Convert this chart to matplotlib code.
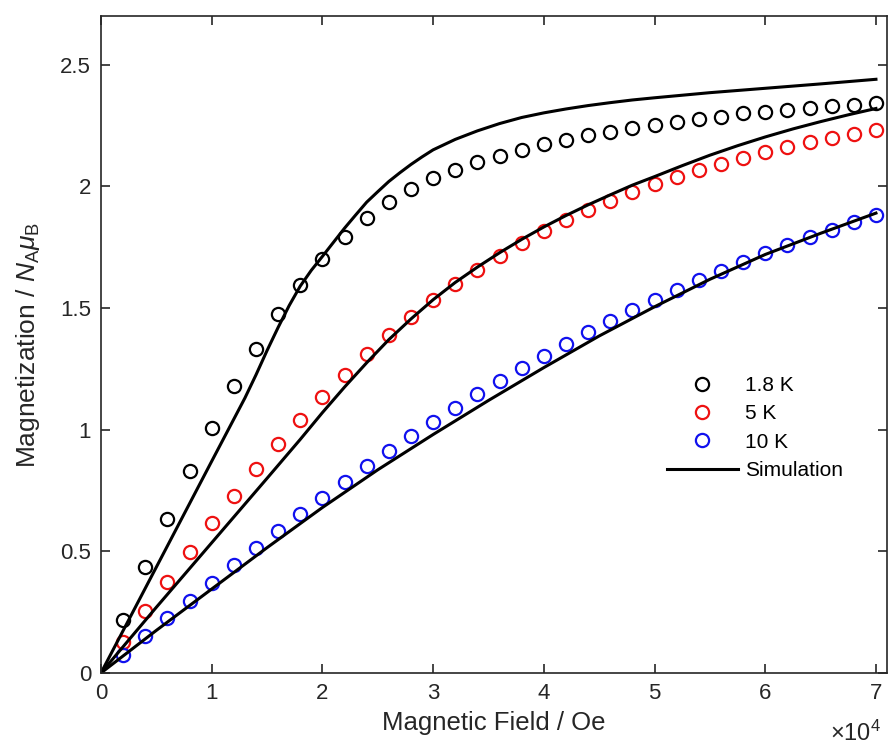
import numpy as np
import matplotlib
matplotlib.use("Agg")
import matplotlib.pyplot as plt
from matplotlib.ticker import FuncFormatter

plt.rcParams['font.family'] = ['Liberation Sans', 'DejaVu Sans']
plt.rcParams['mathtext.fontset'] = 'custom'
plt.rcParams['mathtext.rm'] = 'Liberation Sans'
plt.rcParams['mathtext.it'] = 'Liberation Sans:italic'

# measured data (field in Oe)
field = np.arange(2000, 70001, 2000)
m_18K = [0.218, 0.436, 0.633, 0.83, 1.007, 1.18, 1.332, 1.476, 1.595, 1.70,
         1.79, 1.87, 1.937, 1.99, 2.035, 2.068, 2.10, 2.126, 2.15, 2.175,
         2.19, 2.21, 2.225, 2.24, 2.253, 2.265, 2.278, 2.286, 2.30, 2.307,
         2.315, 2.323, 2.33, 2.336, 2.343]
m_5K = [0.127, 0.255, 0.374, 0.497, 0.617, 0.728, 0.839, 0.94, 1.04, 1.135,
        1.225, 1.31, 1.39, 1.464, 1.534, 1.60, 1.657, 1.715, 1.768, 1.817,
        1.863, 1.904, 1.94, 1.978, 2.01, 2.04, 2.068, 2.093, 2.118, 2.142,
        2.163, 2.183, 2.20, 2.216, 2.233]
m_10K = [0.074, 0.152, 0.226, 0.296, 0.37, 0.444, 0.514, 0.584, 0.654, 0.72,
         0.785, 0.851, 0.913, 0.975, 1.032, 1.09, 1.147, 1.20, 1.254, 1.303,
         1.353, 1.402, 1.447, 1.493, 1.534, 1.575, 1.616, 1.653, 1.69, 1.727,
         1.76, 1.793, 1.822, 1.855, 1.883]

# simulation curves
sim_18K_x = [0, 5000, 10000, 11500, 13000, 14000, 15000, 16000, 17000, 18000,
             19000, 20000, 21000, 22000, 23000, 24000, 25000, 26000, 27000,
             28000, 29000, 30000, 32000, 34000, 36000, 38000, 40000, 42000,
             44000, 46000, 48000, 50000, 55000, 60000, 65000, 70000]
sim_18K_y = [0, 0.435, 0.87, 1.0, 1.13, 1.225, 1.325, 1.42, 1.51, 1.59,
             1.655, 1.712, 1.77, 1.828, 1.882, 1.935, 1.978, 2.02, 2.056,
             2.09, 2.121, 2.15, 2.193, 2.228, 2.258, 2.283, 2.302, 2.318,
             2.332, 2.344, 2.355, 2.364, 2.385, 2.403, 2.421, 2.44]
sim_5K_x = [0, 5000, 10000, 15000, 18000, 20000, 22000, 24000, 26000, 28000,
            30000, 32000, 34000, 36000, 38000, 40000, 42000, 44000, 46000,
            48000, 50000, 52500, 55000, 57500, 60000, 62500, 65000, 67500,
            70000]
sim_5K_y = [0, 0.27, 0.535, 0.80, 0.96, 1.07, 1.175, 1.275, 1.37, 1.455,
            1.534, 1.605, 1.668, 1.727, 1.782, 1.833, 1.88, 1.924, 1.965,
            2.005, 2.04, 2.085, 2.128, 2.167, 2.203, 2.236, 2.266, 2.294,
            2.32]
sim_10K_x = [0, 5000, 10000, 15000, 20000, 25000, 30000, 35000, 40000, 45000,
             50000, 55000, 60000, 65000, 70000]
sim_10K_y = [0, 0.175, 0.345, 0.515, 0.68, 0.835, 0.98, 1.12, 1.255, 1.385,
             1.505, 1.618, 1.72, 1.807, 1.89]

fig = plt.figure(figsize=(8.88, 7.49), dpi=100)
ax = fig.add_axes([0.1137, 0.1015, 0.8852, 0.8771])

ms = 9.5
ax.plot(field, m_18K, 'o', mfc='none', mec='black', ms=ms, mew=1.6, label='1.8 K')
ax.plot(field, m_5K, 'o', mfc='none', mec='#ee1111', ms=ms, mew=1.6, label='5 K')
ax.plot(field, m_10K, 'o', mfc='none', mec='#1111ee', ms=ms, mew=1.6, label='10 K')
ax.plot(sim_18K_x, sim_18K_y, '-', color='black', lw=2.2, label='Simulation')
ax.plot(sim_5K_x, sim_5K_y, '-', color='black', lw=2.2)
ax.plot(sim_10K_x, sim_10K_y, '-', color='black', lw=2.2)

ax.set_xlim(0, 71000)
ax.set_ylim(0, 2.7)
ax.set_xticks(np.arange(0, 70001, 10000))
ax.set_yticks([0, 0.5, 1, 1.5, 2, 2.5])
ax.xaxis.set_major_formatter(FuncFormatter(lambda v, p: '%g' % (v / 1e4)))
ax.yaxis.set_major_formatter(FuncFormatter(lambda v, p: '%g' % v))

ax.tick_params(direction='in', top=True, right=True, length=6.5, width=1.2,
               labelsize=16, colors='#262626', pad=7)
for s in ax.spines.values():
    s.set_linewidth(1.2)
    s.set_color('#262626')

ax.set_xlabel('Magnetic Field / Oe', fontsize=18.5, color='#262626', labelpad=5)
ax.set_ylabel(r'Magnetization / $N_\mathrm{A}\mu_\mathrm{B}$', fontsize=19,
              color='#262626', labelpad=13)
ax.text(0.992, -0.104, r'$\times$10$^{4}$', transform=ax.transAxes, ha='right',
        va='baseline', fontsize=17, color='#262626')

leg = ax.legend(loc='upper left', bbox_to_anchor=(0.72, 0.452), frameon=False,
                fontsize=15, handlelength=3.4, handletextpad=0.35,
                labelspacing=0.45, borderpad=0, borderaxespad=0)

fig.savefig('out.png', dpi=100)
